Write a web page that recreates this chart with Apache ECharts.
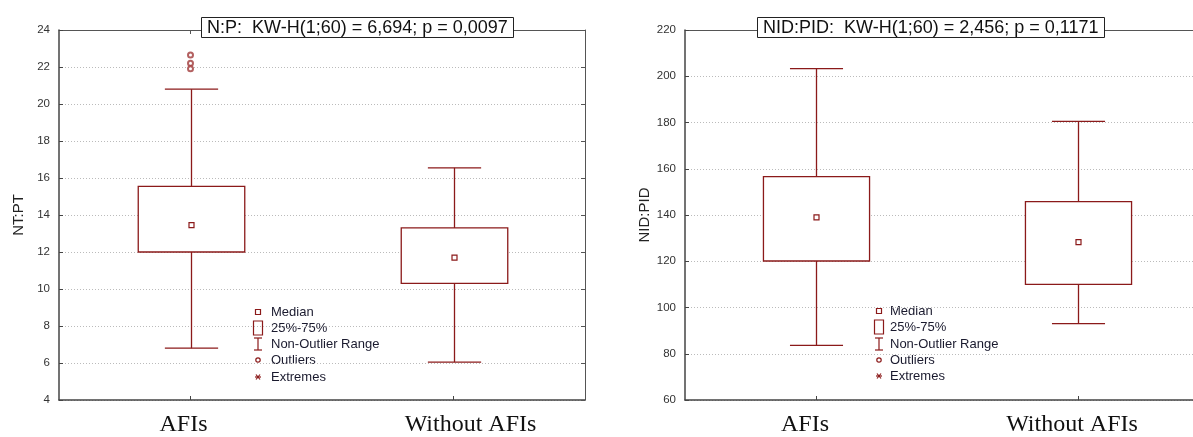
<!DOCTYPE html>
<html>
<head>
<meta charset="utf-8">
<script src="https://cdn.jsdelivr.net/npm/echarts@6/dist/echarts.min.js"></script>
<style>
html,body{margin:0;padding:0;background:#fff;}
#c{width:1193px;height:437px;}
</style>
</head>
<body>
<div id="c"></div>
<script>
const categories = ['AFIs', 'Without AFIs'];
// [low whisker, Q1, median, Q3, high whisker]
const ntptStats = [[6.8, 12.0, 13.45, 15.55, 20.8], [6.05, 10.3, 11.7, 13.3, 16.55]];
const ntptOutliers = [['AFIs', 22.65], ['AFIs', 22.2], ['AFIs', 21.9]];
const nidpidStats = [[83.6, 120.1, 139.0, 156.6, 203.3], [93.0, 110.0, 128.3, 145.8, 180.5]];
const ntptTitle = 'N:P:  KW-H(1;60) = 6,694; p = 0,0097';
const nidpidTitle = 'NID:PID:  KW-H(1;60) = 2,456; p = 0,1171';
const legendLabels = ['Median', '25%-75%', 'Non-Outlier Range', 'Outliers', 'Extremes'];

const RED = '#8b1a1a';
const chart = echarts.init(document.getElementById('c'));

function boxData(stats) {
  return stats.map((s, i) => [i, s[0], s[1], s[2], s[3], s[4]]);
}

function makeRenderBox(frac) {
  return function (params, api) {
    const x = api.value(0);
    const pLow = api.coord([x, api.value(1)]);
    const pQ1 = api.coord([x, api.value(2)]);
    const pMed = api.coord([x, api.value(3)]);
    const pQ3 = api.coord([x, api.value(4)]);
    const pHigh = api.coord([x, api.value(5)]);
    const bw = api.size([1, 0])[0] * frac;
    const cw = bw / 2;
    const cx = Math.round(pLow[0]) + 0.5;
    const st = {stroke: RED, lineWidth: 1.3, fill: null};
    return {
      type: 'group',
      children: [
        {type: 'line', shape: {x1: cx, y1: pLow[1], x2: cx, y2: pQ1[1]}, style: st},
        {type: 'line', shape: {x1: cx, y1: pQ3[1], x2: cx, y2: pHigh[1]}, style: st},
        {type: 'line', shape: {x1: cx - cw / 2, y1: pLow[1], x2: cx + cw / 2, y2: pLow[1]}, style: st},
        {type: 'line', shape: {x1: cx - cw / 2, y1: pHigh[1], x2: cx + cw / 2, y2: pHigh[1]}, style: st},
        {type: 'rect', shape: {x: cx - bw / 2, y: pQ3[1], width: bw, height: pQ1[1] - pQ3[1]}, style: {stroke: RED, lineWidth: 1.3, fill: '#fff'}},
        {type: 'rect', shape: {x: cx - 2.5, y: pMed[1] - 2.5, width: 5, height: 5}, style: {stroke: RED, lineWidth: 1.2, fill: '#fff'}}
      ]
    };
  };
}

function legendGraphic(mx, tx, ys) {
  const g = [];
  const st = {stroke: RED, lineWidth: 1.2, fill: '#fff'};
  g.push({type: 'rect', shape: {x: mx - 2.5, y: ys[0] - 2.5, width: 5, height: 5}, style: st});
  g.push({type: 'rect', shape: {x: mx - 4.5, y: ys[1] - 7, width: 9, height: 14}, style: st});
  g.push({type: 'line', shape: {x1: mx, y1: ys[2] - 6, x2: mx, y2: ys[2] + 6}, style: st});
  g.push({type: 'line', shape: {x1: mx - 4, y1: ys[2] - 6, x2: mx + 4, y2: ys[2] - 6}, style: st});
  g.push({type: 'line', shape: {x1: mx - 4, y1: ys[2] + 6, x2: mx + 4, y2: ys[2] + 6}, style: st});
  g.push({type: 'circle', shape: {cx: mx, cy: ys[3], r: 2.2}, style: st});
  g.push({type: 'line', shape: {x1: mx - 3, y1: ys[4], x2: mx + 3, y2: ys[4]}, style: st});
  g.push({type: 'line', shape: {x1: mx - 2, y1: ys[4] - 2.5, x2: mx + 2, y2: ys[4] + 2.5}, style: st});
  g.push({type: 'line', shape: {x1: mx + 2, y1: ys[4] - 2.5, x2: mx - 2, y2: ys[4] + 2.5}, style: st});
  legendLabels.forEach((t, i) => {
    g.push({type: 'text', x: tx, y: ys[i], style: {text: t, fill: '#1a1a2e', font: '13px "Liberation Sans", Arial', textVerticalAlign: 'middle'}});
  });
  return g;
}

const yAxisCommon = {
  type: 'value',
  nameLocation: 'middle',
  nameTextStyle: {fontSize: 15, color: '#222', fontFamily: '"Liberation Sans", Arial'},
  axisLine: {show: true, onZero: false, lineStyle: {color: '#444', width: 1.5}},
  axisTick: {show: true, inside: true, length: 4, lineStyle: {color: '#444'}},
  axisLabel: {fontSize: 11.5, color: '#333', fontFamily: '"Liberation Sans", Arial', margin: 9},
  splitLine: {show: true, lineStyle: {color: '#bbb', type: [1, 2], width: 1}}
};
const yAxisMirror = {
  type: 'value',
  position: 'right',
  axisLine: {show: true, onZero: false, lineStyle: {color: '#555', width: 1}},
  axisTick: {show: true, inside: true, length: 4, lineStyle: {color: '#555'}},
  axisLabel: {show: false},
  splitLine: {show: false}
};

// label styles: per-label horizontal nudge via rich padding (labels in the source sit slightly off their ticks)
function labelRich(pads) {
  const rich = {};
  pads.forEach((p, i) => {
    rich['s' + i] = {fontSize: 24, color: '#111', fontFamily: '"Liberation Serif", "Times New Roman", serif', padding: p};
  });
  return rich;
}
function xLabel(pads) {
  return {
    margin: 13,
    fontSize: 24, color: '#111', fontFamily: '"Liberation Serif", "Times New Roman", serif',
    rich: labelRich(pads)
  };
}

const xAxisLeft = {
  type: 'category',
  data: categories,
  boundaryGap: true,
  axisLine: {show: true, onZero: false, lineStyle: {color: '#444', width: 1.5}},
  axisTick: {show: true, inside: true, alignWithLabel: true, length: 4, lineStyle: {color: '#444'}},
  axisLabel: Object.assign(xLabel([[0, 14, 0, 0], [0, 0, 0, 34]]), {
    formatter: (v, i) => '{s' + i + '|' + v + '}'
  }),
  splitLine: {show: false}
};
const xAxisMirror = {
  type: 'category',
  data: categories,
  position: 'top',
  boundaryGap: true,
  axisLine: {show: true, onZero: false, lineStyle: {color: '#555', width: 1}},
  axisTick: {show: true, inside: true, alignWithLabel: true, length: 4, lineStyle: {color: '#555'}},
  axisLabel: {show: false},
  splitLine: {show: false}
};
// Right panel: the plot frame runs past the picture edge, so a value axis clipped at the edge is used
const catIdx = categories.map((c, i) => i);
const rightXMin = -0.5, rightXMax = 1.439;
const xAxisRight = {
  type: 'value',
  min: rightXMin, max: rightXMax,
  axisLine: {show: true, onZero: false, lineStyle: {color: '#444', width: 1.5}},
  axisTick: {show: true, inside: true, length: 4, customValues: catIdx, lineStyle: {color: '#444'}},
  axisLabel: Object.assign(xLabel([[0, 22, 0, 0], [0, 12, 0, 0]]), {
    customValues: catIdx,
    formatter: v => { const i = Math.round(v); return categories[i] ? '{s' + i + '|' + categories[i] + '}' : ''; }
  }),
  splitLine: {show: false}
};
const xAxisRightMirror = {
  type: 'value',
  position: 'top',
  min: rightXMin, max: rightXMax,
  axisLine: {show: true, onZero: false, lineStyle: {color: '#555', width: 1}},
  axisTick: {show: true, inside: true, length: 4, customValues: catIdx, lineStyle: {color: '#555'}},
  axisLabel: {show: false},
  splitLine: {show: false}
};

const titleStyle = {fontSize: 18, fontWeight: 'normal', color: '#111', fontFamily: '"Liberation Sans", Arial'};

const option = {
  backgroundColor: '#fff',
  animation: false,
  title: [
    {text: ntptTitle, left: 201, top: 17, padding: [2, 6, 1, 6], borderWidth: 1, borderColor: '#222', backgroundColor: '#fff', textStyle: titleStyle, z: 10},
    {text: nidpidTitle, left: 757, top: 17, padding: [2, 6, 1, 6], borderWidth: 1, borderColor: '#222', backgroundColor: '#fff', textStyle: titleStyle, z: 10}
  ],
  grid: [
    {left: 59, width: 526, top: 30, bottom: 34, show: false},
    {left: 685, right: 0, top: 30, bottom: 34, show: false}
  ],
  xAxis: [
    Object.assign({gridIndex: 0}, xAxisLeft),
    Object.assign({gridIndex: 1}, xAxisRight),
    Object.assign({gridIndex: 0}, xAxisMirror),
    Object.assign({gridIndex: 1}, xAxisRightMirror)
  ],
  yAxis: [
    Object.assign({gridIndex: 0, name: 'NT:PT', nameGap: 33, min: 4, max: 24, interval: 2}, yAxisCommon),
    Object.assign({gridIndex: 1, name: 'NID:PID', nameGap: 33, min: 60, max: 220, interval: 20}, yAxisCommon),
    Object.assign({gridIndex: 0, min: 4, max: 24, interval: 2}, yAxisMirror)
  ],
  series: [
    {type: 'custom', xAxisIndex: 0, yAxisIndex: 0, renderItem: makeRenderBox(0.405), encode: {x: 0, y: [1, 2, 3, 4, 5]}, data: boxData(ntptStats), z: 3},
    {type: 'scatter', xAxisIndex: 0, yAxisIndex: 0, symbol: 'emptyCircle', symbolSize: 5,
     itemStyle: {color: '#a03a3a', borderColor: '#a03a3a', borderWidth: 1.2}, data: ntptOutliers, z: 4},
    {type: 'custom', xAxisIndex: 1, yAxisIndex: 1, renderItem: makeRenderBox(0.405), encode: {x: 0, y: [1, 2, 3, 4, 5]}, data: boxData(nidpidStats), z: 3}
  ],
  graphic: legendGraphic(258, 271, [312, 328, 344, 360, 377]).concat(legendGraphic(879, 890, [311, 327, 344, 360, 376]))
};
chart.setOption(option);
</script>
</body>
</html>
